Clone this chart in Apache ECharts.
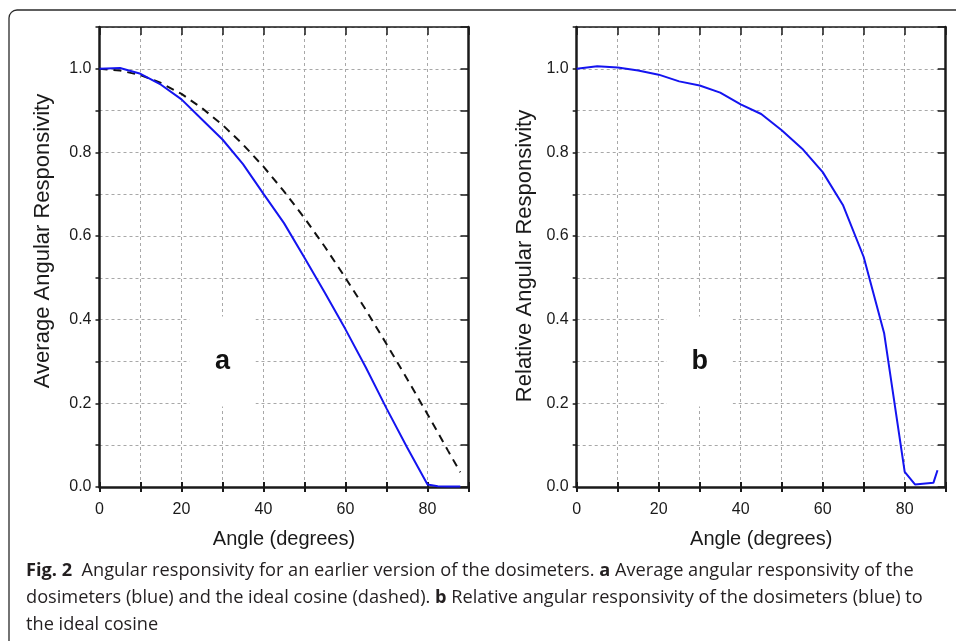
<!DOCTYPE html>
<html>
<head>
<meta charset="utf-8">
<script src="https://cdn.jsdelivr.net/npm/echarts@6/dist/echarts.min.js"></script>
<style>
html,body{margin:0;padding:0;background:#fff;}
#chart{width:956px;height:641px;}
</style>
</head>
<body>
<div id="chart"></div>
<script>
// ---- Data ----
const anglesA = [0, 5, 10, 15, 20, 25, 30, 35, 40, 45, 50, 55, 60, 65, 70, 75, 80, 82.5, 85, 88];
const averageResp = [1.0, 1.002, 0.988, 0.962, 0.927, 0.879, 0.831, 0.772, 0.701, 0.631, 0.548, 0.464, 0.377, 0.285, 0.188, 0.095, 0.006, 0.002, 0.001, 0.001];
const idealCosine = [1.0, 0.996, 0.985, 0.966, 0.940, 0.906, 0.866, 0.819, 0.766, 0.707, 0.643, 0.574, 0.500, 0.423, 0.342, 0.259, 0.174, 0.131, 0.087, 0.035];

const anglesB = [0, 5, 10, 15, 20, 25, 30, 35, 40, 45, 50, 55, 60, 65, 70, 75, 80, 82.5, 87, 88];
const relativeResp = [1.0, 1.006, 1.003, 0.996, 0.986, 0.970, 0.960, 0.943, 0.915, 0.892, 0.853, 0.809, 0.753, 0.673, 0.550, 0.367, 0.036, 0.006, 0.010, 0.040];

const panelLetters = ['a', 'b'];
const xAxisTitle = 'Angle (degrees)';
const yAxisTitles = ['Average Angular Responsivity', 'Relative Angular Responsivity'];
const captionLines = [
  [['bold', 'Fig. 2'], ['n', '  Angular responsivity for an earlier version of the dosimeters. '], ['bold', 'a'], ['n', ' Average angular responsivity of the']],
  [['n', 'dosimeters (blue) and the ideal cosine (dashed). '], ['bold', 'b'], ['n', ' Relative angular responsivity of the dosimeters (blue) to']],
  [['n', 'the ideal cosine']]
];

const pairs = (xs, ys) => xs.map((x, i) => [x, ys[i]]);

const FONT = '"Liberation Sans", Arial, sans-serif';
const CAP_FONT = '"Open Sans", "Noto Sans", sans-serif';
const AX = '#1a1a1a';
const gridLine = { show: true, lineStyle: { color: '#a8a8a8', width: 1, type: [3, 3] } };

const grids = [
  { left: 99.5, top: 27, width: 369, height: 460 },
  { left: 576.7, top: 27, width: 369, height: 460 }
];
const yNameGaps = [46, 41];
const yNameShift = [32, 2];

const xAxes = [];
const yAxes = [];
grids.forEach((g, gi) => {
  // main bottom axis
  xAxes.push({
    gridIndex: gi, type: 'value', position: 'bottom', min: 0, max: 90, interval: 10,
    name: xAxisTitle, nameLocation: 'middle', nameGap: 42,
    nameTextStyle: { fontFamily: FONT, fontSize: 20, color: AX },
    axisLine: { show: true, onZero: false, lineStyle: { color: AX, width: 2.5 } },
    axisTick: { show: true, inside: false, length: 5, lineStyle: { color: AX, width: 2 } },
    axisLabel: { margin: 15, fontFamily: FONT, fontSize: 16, color: AX,
      formatter: v => (Math.round(v) % 20 === 0 ? String(Math.round(v)) : '') },
    splitLine: gridLine
  });
  // inner ticks on bottom
  xAxes.push({
    gridIndex: gi, type: 'value', position: 'bottom', min: 0, max: 90, interval: 10,
    axisLine: { show: false },
    axisTick: { show: true, inside: true, length: 5, lineStyle: { color: AX, width: 2 } },
    axisLabel: { show: false }, splitLine: { show: false }
  });
  // top axis
  xAxes.push({
    gridIndex: gi, type: 'value', position: 'top', min: 0, max: 90, interval: 10,
    axisLine: { show: true, onZero: false, lineStyle: { color: AX, width: 1.5 } },
    axisTick: { show: true, inside: true, length: 8, lineStyle: { color: AX, width: 1.5 } },
    axisLabel: { show: false }, splitLine: { show: false }
  });
  // main left axis
  yAxes.push({
    gridIndex: gi, type: 'value', position: 'left', min: 0, max: 1.1, interval: 0.1,
    name: yAxisTitles[gi], nameLocation: 'middle', nameGap: yNameGaps[gi], nameRotate: 90,
    nameTextStyle: { fontFamily: FONT, fontSize: 22, color: AX, padding: [0, 0, 0, yNameShift[gi]] },
    axisLine: { show: true, onZero: false, lineStyle: { color: AX, width: 2.5 } },
    axisTick: { show: true, inside: false, length: 4, lineStyle: { color: AX, width: 1.5 } },
    axisLabel: { margin: 8, fontFamily: FONT, fontSize: 16, color: AX,
      formatter: v => (Math.round(v * 10) % 2 === 0 && v < 1.05 ? v.toFixed(1) : '') },
    splitLine: gridLine
  });
  // right axis
  yAxes.push({
    gridIndex: gi, type: 'value', position: 'right', min: 0, max: 1.1, interval: 0.1,
    axisLine: { show: true, onZero: false, lineStyle: { color: AX, width: 2.5 } },
    axisTick: { show: true, inside: true, length: 8, lineStyle: { color: AX, width: 1.5 } },
    axisLabel: { show: false }, splitLine: { show: false }
  });
});

function letterMark(letter) {
  return {
    silent: true, animation: false,
    symbol: 'rect', symbolSize: [66, 90],
    itemStyle: { color: '#ffffff' },
    label: { show: true, position: 'inside', formatter: letter,
      fontFamily: FONT, fontWeight: 'bold', fontSize: 27, color: '#111' },
    data: [{ coord: [30, 0.3] }]
  };
}

const captionGraphics = captionLines.map((line, i) => ({
  type: 'text', left: 26, top: 562 + i * 27,
  style: {
    text: line.map(([k, t]) => '{' + k + '|' + t + '}').join(''),
    rich: {
      bold: { fontFamily: CAP_FONT, fontWeight: 'bold', fontSize: 18.2, fill: '#231f20' },
      n: { fontFamily: CAP_FONT, fontSize: 18.2, fill: '#231f20' }
    }
  }
}));

const chart = echarts.init(document.getElementById('chart'), null, { renderer: 'canvas' });
chart.setOption({
  animation: false,
  backgroundColor: '#ffffff',
  grid: grids,
  xAxis: xAxes,
  yAxis: yAxes,
  graphic: [
    { type: 'rect', shape: { x: 9, y: 10, width: 1000, height: 700, r: 8 },
      style: { fill: 'none', stroke: '#2a2a2a', lineWidth: 1.3 }, z: 10 }
  ].concat(captionGraphics),
  series: [
    { type: 'line', xAxisIndex: 0, yAxisIndex: 0, data: pairs(anglesA, idealCosine),
      symbol: 'none', lineStyle: { color: '#111', width: 2, type: [8, 6] }, z: 3 },
    { type: 'line', xAxisIndex: 0, yAxisIndex: 0, data: pairs(anglesA, averageResp),
      symbol: 'none', lineStyle: { color: '#1414f0', width: 2 }, z: 4,
      markPoint: letterMark(panelLetters[0]) },
    { type: 'line', xAxisIndex: 3, yAxisIndex: 2, data: pairs(anglesB, relativeResp),
      symbol: 'none', lineStyle: { color: '#1414f0', width: 2 }, z: 4,
      markPoint: letterMark(panelLetters[1]) }
  ]
});
</script>
</body>
</html>
